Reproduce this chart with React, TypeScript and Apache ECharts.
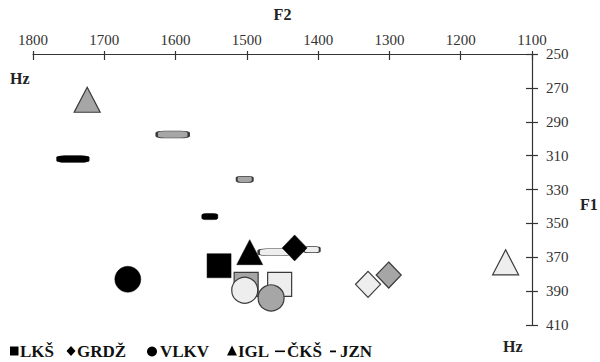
import React, { useEffect, useRef } from "react";
import * as echarts from "echarts";

// F2 (Hz) and F1 (Hz) of three vowel groups (dark, mid, light) per dialect
const lksF2 = [1539, 1501, 1454];
const lksF1 = [375, 386, 386];
const grdzF2 = [1433, 1301, 1330];
const grdzF1 = [364.5, 380.5, 386];
const vlkvF2 = [1667, 1466, 1503];
const vlkvF1 = [383, 394, 389.5];
const iglF2 = [1496, 1724, 1137];
const iglF1 = [367, 277, 373];
const ckshF2 = [1744, 1604, 1461];
const ckshF1 = [312, 297.5, 367];
const jznF2 = [1552, 1503, 1409];
const jznF1 = [346, 324, 365.5];

const f2Range = [1100, 1800];
const f1Range = [250, 410];
const legendNames = ["LKŠ", "GRDŽ", "VLKV", "IGL", "ČKŠ", "JZN"];

const SERIF = "'Liberation Serif', 'Times New Roman', serif";

const shadeStyle = [
  { color: "#000000", borderColor: "#000000", borderWidth: 0.5, opacity: 1 },
  { color: "#a6a6a6", borderColor: "#3a3a3a", borderWidth: 1.2, opacity: 1 },
  { color: "#eeeeee", borderColor: "#3a3a3a", borderWidth: 1.2, opacity: 1 },
];

function pts(f2: number[], f1: number[]) {
  return f2.map((x, i) => ({ value: [x, f1[i]], itemStyle: shadeStyle[i] }));
}

export default function App() {
  const ref = useRef<HTMLDivElement>(null);
  useEffect(() => {
    if (!ref.current) return;
    const chart = echarts.init(ref.current, null, { renderer: "svg" });
    const gridLeft = 33;
    const gridRight = 68;
    const gridTop = 54;
    const gridBottom = 37;
    const gw = 600 - gridLeft - gridRight;
    const gh = 362 - gridTop - gridBottom;
    const lineStyle = { color: "#333", width: 1.2 };
    const base = (name: string, symbol: string, size: any, data: any[]) => ({
      type: "scatter",
      name,
      symbol,
      symbolSize: size,
      data,
      xAxisIndex: 0,
      yAxisIndex: 0,
      itemStyle: { opacity: 1 },
    });
    const plain = (v: number) => String(v);

    // legend (drawn as graphic: icon + label)
    const ly = 351;
    const lblStyle = { fontWeight: "bold", fontSize: 17, fontFamily: SERIF, fill: "#111" };
    const legendX = [20, 77, 160, 238, 287, 340];
    const legendGraphics: any[] = legendNames.map((t, i) => ({
      type: "text",
      x: legendX[i],
      y: ly,
      style: { ...lblStyle, text: t, verticalAlign: "middle" },
    }));
    legendGraphics.push(
      { type: "rect", shape: { x: 10, y: ly - 4.5, width: 8.5, height: 9 }, style: { fill: "#000" } },
      { type: "polygon", shape: { points: [[71, ly - 5], [75.5, ly], [71, ly + 5], [66.5, ly]] }, style: { fill: "#000" } },
      { type: "circle", shape: { cx: 152, cy: ly + 0.5, r: 5 }, style: { fill: "#000" } },
      { type: "polygon", shape: { points: [[232, ly - 5.5], [237, ly + 4.5], [227, ly + 4.5]] }, style: { fill: "#000" } },
      { type: "rect", shape: { x: 275, y: ly - 0.5, width: 10, height: 1.6 }, style: { fill: "#000" } },
      { type: "rect", shape: { x: 330, y: ly - 0.5, width: 6, height: 1.8 }, style: { fill: "#000" } }
    );

    chart.setOption({
      animation: false,
      backgroundColor: "#ffffff",
      grid: { left: gridLeft, right: gridRight, top: gridTop, bottom: gridBottom },
      xAxis: [
        {
          type: "value",
          position: "top",
          inverse: true,
          min: f2Range[0],
          max: f2Range[1],
          interval: 100,
          name: "F2",
          nameLocation: "middle",
          nameGap: 32,
          nameTextStyle: { fontWeight: "bold", fontSize: 16, fontFamily: SERIF, color: "#222" },
          axisLine: { lineStyle },
          axisTick: { inside: false, length: 3, lineStyle },
          axisLabel: { margin: 7, fontSize: 15, fontFamily: SERIF, color: "#333", formatter: plain },
          splitLine: { show: false },
        },
        {
          type: "value",
          position: "bottom",
          offset: -gh,
          inverse: true,
          min: f2Range[0],
          max: f2Range[1],
          interval: 100,
          axisLine: { show: false },
          axisTick: { inside: false, length: 6, lineStyle },
          axisLabel: { show: false },
          splitLine: { show: false },
        },
      ],
      yAxis: [
        {
          type: "value",
          position: "right",
          inverse: true,
          min: f1Range[0],
          max: f1Range[1],
          interval: 20,
          axisLine: { lineStyle },
          axisTick: { inside: false, length: 6, lineStyle },
          axisLabel: { margin: 14, fontSize: 15, fontFamily: SERIF, color: "#333", formatter: plain },
          splitLine: { show: false },
        },
        {
          type: "value",
          position: "left",
          offset: -gw,
          inverse: true,
          min: f1Range[0],
          max: f1Range[1],
          interval: 20,
          axisLine: { show: false },
          axisTick: { inside: false, length: 6, lineStyle },
          axisLabel: { show: false },
          splitLine: { show: false },
        },
      ],
      series: [
        base("IGL", "triangle", [26, 25], pts(iglF2, iglF1)),
        base("ČKŠ", "roundRect", [32, 7], pts(ckshF2, ckshF1)),
        base("JZN", "roundRect", [16, 6], pts(jznF2, jznF1)),
        base("LKŠ", "rect", 24, pts(lksF2, lksF1)),
        base("VLKV", "circle", 26, pts(vlkvF2, vlkvF1)),
        base("GRDŽ", "diamond", [25, 26], pts(grdzF2, grdzF1)),
      ],
      graphic: [
        {
          type: "text",
          left: 10,
          top: 70,
          style: { text: "Hz", fontWeight: "bold", fontSize: 16, fontFamily: SERIF, fill: "#222" },
        },
        {
          type: "text",
          left: 580,
          top: 196,
          style: { text: "F1", fontWeight: "bold", fontSize: 16, fontFamily: SERIF, fill: "#222" },
        },
        {
          type: "text",
          left: 503,
          top: 338,
          style: { text: "Hz", fontWeight: "bold", fontSize: 16, fontFamily: SERIF, fill: "#222" },
        },
        ...legendGraphics,
      ],
    });
    return () => chart.dispose();
  }, []);
  return <div ref={ref} style={{ width: 600, height: 362, position: "absolute", left: 0, top: 0 }} />;
}
